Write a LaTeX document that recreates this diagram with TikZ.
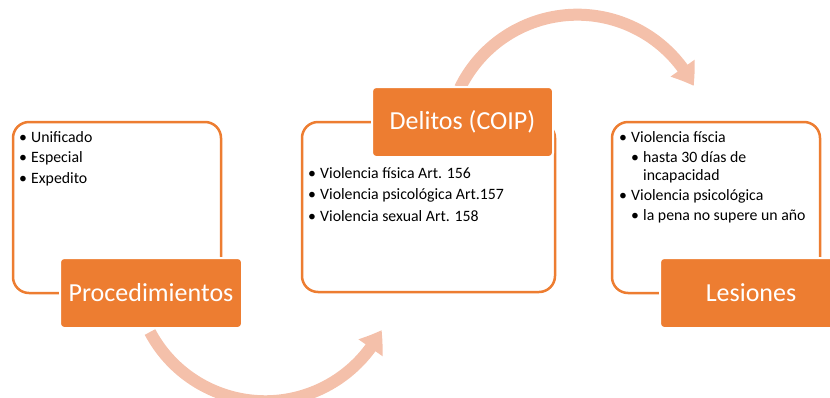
\documentclass[tikz,border=0pt]{standalone}
\usepackage{fontspec}
\setmainfont{Carlito}
\usetikzlibrary{arrows.meta,bending}
\definecolor{orng}{HTML}{ED7D31}
\definecolor{arrc}{HTML}{F4C0AA}
\begin{document}
\begin{tikzpicture}[x=1pt,y=-1pt,
  panel/.style={draw=orng, line width=2.5pt, rounded corners=16pt, fill=white, inner sep=0pt},
  tag/.style={fill=orng, draw=white, line width=2pt, rounded corners=4pt, text=white,
    font=\fontsize{26}{30}\selectfont, minimum width=182pt, minimum height=70pt, inner sep=0pt},
  item/.style={anchor=base west, inner sep=0pt, font=\fontsize{15.8}{19}\selectfont},
  flow/.style={draw=arrc, line width=12pt, -{Triangle[bend,width=28pt,length=21pt]}}]
\useasboundingbox (0,0) rectangle (830,397);
% connectors
\coordinate (a1s) at (150,332);
\coordinate (a2s) at (460,88);
\draw[flow] (a1s) arc[start angle=152, end angle=27, radius=130.5];
\draw[flow] (a2s) arc[start angle=-154, end angle=-27, radius=130.5];
% panels
\node[panel, minimum width=208pt, minimum height=171pt] (p1) at (117,207.5) {};
\node[panel, minimum width=253pt, minimum height=170pt] (p2) at (428.5,207) {};
\node[panel, minimum width=208pt, minimum height=171pt] (p3) at (716,207.5) {};
% tags
\node[tag] (l1) at (151,293) {Procedimientos};
\node[tag, minimum width=181pt] (l2) at (462.5,122) {Delitos (COIP)};
\node[tag] (l3) at (751,293) {Lesiones};
% items panel 1
\node[item] (i11) at (19,142) {\makebox[12pt][l]{\textbullet}Unificado};
\node[item] (i12) at (19,162.5) {\makebox[12pt][l]{\textbullet}Especial};
\node[item] (i13) at (19,183) {\makebox[12pt][l]{\textbullet}Expedito};
% items panel 2
\node[item] (i21) at (308,178) {\makebox[12pt][l]{\textbullet}Violencia física Art. 156};
\node[item] (i22) at (308,199.5) {\makebox[12pt][l]{\textbullet}Violencia psicológica Art.157};
\node[item] (i23) at (308,221) {\makebox[12pt][l]{\textbullet}Violencia sexual Art. 158};
% items panel 3
\node[item] (i31) at (619,142) {\makebox[12pt][l]{\textbullet}Violencia físcia};
\node[item] (i32) at (631,162) {\makebox[12pt][l]{\textbullet}hasta 30 días de};
\node[item] (i33) at (643,180) {incapacidad};
\node[item] (i34) at (619,200) {\makebox[12pt][l]{\textbullet}Violencia psicológica};
\node[item] (i35) at (631,220) {\makebox[12pt][l]{\textbullet}la pena no supere un año};
\end{tikzpicture}
\end{document}
